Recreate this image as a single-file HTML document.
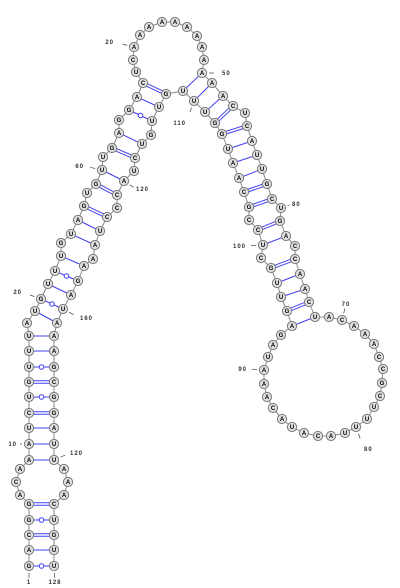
<!DOCTYPE html>
<html><head><meta charset="utf-8"><style>
html,body{margin:0;padding:0;background:#fff;}
svg{display:block;font-family:"Liberation Sans",sans-serif;}
</style></head><body>
<svg id="rna" width="400" height="588" viewBox="0 0 400 588" xmlns="http://www.w3.org/2000/svg">
<g id="bb"></g>
<g id="pr"></g>
<g id="nt"></g>
<g id="lb"></g>
</svg>
<script>
const sequence = "GACGGACAAAUCUGUUUAUGUUUGUAGUGUUGAGGACUCAAAAAAAAAAAACUCAUUGCUGACCAACUACAAACCGCUUUUACAUACAAAUAGAGUUGCUCCGCAAUGGUUUGUUGUCUACCCUAAAGAUAAAGCGGAUUAAACUGUU";
const layoutX = [29,29,29,29,29,20,16,20,29,29,29,29,29,29,29,29,29,27,35,41,48,55,61,61,71,78,84,87,96,102,103,112,119,119,129,137,143,136,133,134,140,149,162,175,187,197,202,204,202,212,223,233,245,247,252,257,262,267,272,281,280,286,295,295,300,305,309,315,329,342,354,365,374,379,383,382,380,374,367,356,345,331,318,304,292,282,273,267,264,264,268,273,281,292,287,281,277,271,261,263,258,249,249,244,239,233,228,222,215,205,194,183,166,159,152,151,142,135,134,124,117,117,107,100,95,93,84,78,71,63,57,54,54,54,54,54,54,54,54,54,64,68,64,54,54,54,54,54];
const layoutY = [566,550,535,520,504,495,482,469,460,444,428,413,397,382,367,351,336,323,311,299,284,271,256,243,234,220,206,193,184,170,157,148,133,120,110,97,83,72,60,47,35,27,22,22,27,36,47,60,73,83,96,106,113,126,141,155,169,184,199,208,221,236,246,259,274,289,302,317,317,320,326,334,344,357,369,383,396,407,419,427,433,436,436,433,427,419,408,397,384,370,357,345,335,326,311,297,283,268,258,245,230,220,207,192,178,163,149,134,123,112,101,91,94,107,121,135,144,158,171,181,195,208,217,231,245,259,266,281,295,309,323,336,351,367,382,397,413,428,444,460,469,482,495,504,520,535,550,566];
const pairI = [0,1,2,3,4,8,9,10,11,12,13,14,15,16,18,19,20,21,22,24,25,26,28,29,31,32,34,35,36,48,49,50,51,53,54,55,56,57,58,60,61,63,64,65,66,67];
const pairJ = [147,146,145,144,143,139,138,137,136,135,134,133,132,131,130,129,128,127,126,124,123,122,120,119,117,116,114,113,112,111,110,109,108,107,106,105,104,103,102,100,99,97,96,95,94,93];
const labelText = ["1","128","10","120","20","160","60","120","20","50","110","80","100","70","90","80"];
const labelNt = [0,147,9,139,19,129,29,119,39,48,110,59,99,69,89,79];
const labelX = [29,55,17,70,22,80,84,136,114,222,186,292,246,346,247,364];
const labelY = [584,584,446,455,294,320,168,191,44,75,125,206,248,306,371,451];
const labelAnchor = ["middle","middle","end","start","end","start","end","start","end","start","end","start","end","middle","end","start"];

const NS="http://www.w3.org/2000/svg";
const bb=document.getElementById('bb'), pr=document.getElementById('pr'), nt=document.getElementById('nt'), lb=document.getElementById('lb');
function mk(t,a){const e=document.createElementNS(NS,t);for(const k in a)e.setAttribute(k,a[k]);return e;}
for(let i=0;i<layoutX.length-1;i++){
  const l=mk('line',{x1:layoutX[i],y1:layoutY[i],x2:layoutX[i+1],y2:layoutY[i+1],stroke:'#888','stroke-width':1});
  
  
  bb.appendChild(l);
}
for(let k=0;k<pairI.length;k++){
  const i=pairI[k], j=pairJ[k];
  const a=sequence[i], b=sequence[j];
  const x1=layoutX[i],y1=layoutY[i],x2=layoutX[j],y2=layoutY[j];
  const g=mk('g',{});
  
  
  const p=a+b;
  if(p==='GC'||p==='CG'){
    const dx=x2-x1,dy=y2-y1,L=Math.hypot(dx,dy),nx=-dy/L*1.3,ny=dx/L*1.3;
    g.appendChild(mk('line',{x1:x1+nx,y1:y1+ny,x2:x2+nx,y2:y2+ny,stroke:'#4040f0','stroke-width':1}));
    g.appendChild(mk('line',{x1:x1-nx,y1:y1-ny,x2:x2-nx,y2:y2-ny,stroke:'#4040f0','stroke-width':1}));
  } else if(p==='GU'||p==='UG'){
    g.appendChild(mk('line',{x1:x1,y1:y1,x2:x2,y2:y2,stroke:'#4040f0','stroke-width':1}));
    g.appendChild(mk('circle',{cx:(x1+x2)/2,cy:(y1+y2)/2,r:2.3,fill:'#fff',stroke:'#4040f0','stroke-width':1}));
  } else {
    g.appendChild(mk('line',{x1:x1,y1:y1,x2:x2,y2:y2,stroke:'#4040f0','stroke-width':1}));
  }
  pr.appendChild(g);
}
for(let i=0;i<layoutX.length;i++){
  const g=mk('g',{});
  
  
  g.appendChild(mk('circle',{cx:layoutX[i],cy:layoutY[i],r:4.6,fill:'#e0e0e0',stroke:'#7a7a7a','stroke-width':1}));
  const t=mk('text',{x:layoutX[i],y:layoutY[i]+2.2,'text-anchor':'middle','font-size':6,'font-weight':'bold',fill:'#000'});
  t.textContent=sequence[i];
  g.appendChild(t);
  nt.appendChild(g);
}
for(let k=0;k<labelText.length;k++){
  const n=labelNt[k];
  const nx=layoutX[n], ny=layoutY[n];
  let tx=labelX[k], ty=labelY[k]-2;
  const dx=tx-nx, dy=ty-ny, L=Math.hypot(dx,dy);
  const tick=mk('line',{x1:nx+dx/L*7,y1:ny+dy/L*7,x2:nx+dx/L*Math.min(L-3,12),y2:ny+dy/L*Math.min(L-3,12),stroke:'#555','stroke-width':0.8});
  
  
  lb.appendChild(tick);
  const t=mk('text',{x:labelX[k],y:labelY[k],'text-anchor':labelAnchor[k],'font-size':6,'font-weight':'bold',fill:'#333','letter-spacing':'1'});
  
  
  t.textContent=labelText[k];
  lb.appendChild(t);
}
</script>
</body></html>
